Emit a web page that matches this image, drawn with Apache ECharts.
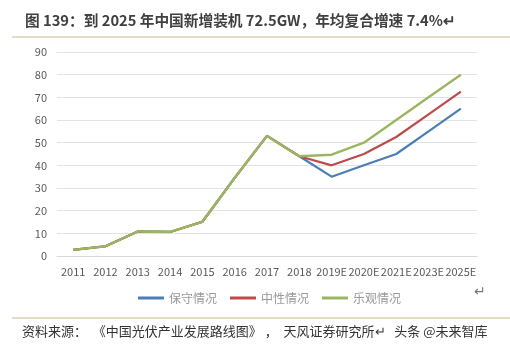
<!DOCTYPE html>
<html>
<head>
<meta charset="utf-8">
<script src="https://cdn.jsdelivr.net/npm/echarts@6/dist/echarts.min.js"></script>
<style>
  html, body { margin: 0; padding: 0; background: #fff; }
  #chart { width: 510px; height: 350px; }
</style>
</head>
<body>
<div id="chart"></div>
<script>
// 年份
const years = ["2011", "2012", "2013", "2014", "2015", "2016", "2017", "2018", "2019E", "2020E", "2021E", "2023E", "2025E"];
// 新增装机 (GW)
const conservative = [2.7, 4.3, 10.8, 10.6, 15.1, 34.5, 53, 44, 35, 40, 45, 55, 65];
const neutral      = [2.7, 4.3, 10.8, 10.6, 15.1, 34.5, 53, 44, 40, 45, 52.5, 62.5, 72.5];
const optimistic   = [2.7, 4.3, 10.8, 10.6, 15.1, 34.5, 53, 44, 44.7, 50, 60, 70, 80];
const seriesNames = ["保守情况", "中性情况", "乐观情况"];

const cjk = '"Noto Sans CJK SC", "Noto Sans", sans-serif';
const myChart = echarts.init(document.getElementById("chart"));

const option = {
  backgroundColor: "#fff",
  animation: false,
  title: {
    text: "图 139：到 2025 年中国新增装机 72.5GW，年均复合增速 7.4%↵",
    left: 20,
    top: 8,
    textStyle: { fontFamily: cjk, fontSize: 14.7, fontWeight: "bold", color: "#404040" }
  },
  grid: { left: 57, right: 33, top: 52, bottom: 94 },
  legend: {
    data: seriesNames,
    left: 133,
    top: 287,
    icon: "rect",
    itemWidth: 26,
    itemHeight: 3,
    itemGap: 13,
    textStyle: { fontFamily: cjk, fontSize: 12, color: "#999" }
  },
  xAxis: {
    type: "category",
    data: years,
    axisLine: { lineStyle: { color: "#d9d9d9" } },
    axisTick: { show: false },
    axisLabel: { fontFamily: cjk, fontSize: 11, color: "#595959", interval: 0, margin: 10 }
  },
  yAxis: {
    type: "value",
    min: 0,
    max: 90,
    interval: 10,
    axisLine: { show: false },
    axisTick: { show: false },
    axisLabel: { fontFamily: cjk, fontSize: 11, color: "#595959", margin: 10 },
    splitLine: { lineStyle: { color: "#e3e3e3" } }
  },
  series: [
    { name: seriesNames[0], type: "line", data: conservative, symbol: "none", lineStyle: { width: 2.2, color: "#4a7eb4" }, itemStyle: { color: "#4a7eb4" } },
    { name: seriesNames[1], type: "line", data: neutral, symbol: "none", lineStyle: { width: 2.2, color: "#bd4b4a" }, itemStyle: { color: "#bd4b4a" } },
    { name: seriesNames[2], type: "line", data: optimistic, symbol: "none", lineStyle: { width: 2.4, color: "#9bb660" }, itemStyle: { color: "#9bb660" } }
  ],
  graphic: [
    { type: "line", shape: { x1: 12, y1: 37, x2: 510, y2: 37 }, style: { stroke: "#c9b98f", lineWidth: 1 } },
    { type: "line", shape: { x1: 12, y1: 318, x2: 510, y2: 318 }, style: { stroke: "#c9b98f", lineWidth: 1 } },
    { type: "text", left: 474, top: 285, style: { text: "↵", fontSize: 14, fill: "#777" } },
    { type: "text", left: 22, top: 325, style: { text: "资料来源：  《中国光伏产业发展路线图》 ，  天风证券研究所↵   头条 @未来智库", fontFamily: cjk, fontSize: 13, fill: "#333" } }
  ]
};

myChart.setOption(option, true);
</script>
</body>
</html>
